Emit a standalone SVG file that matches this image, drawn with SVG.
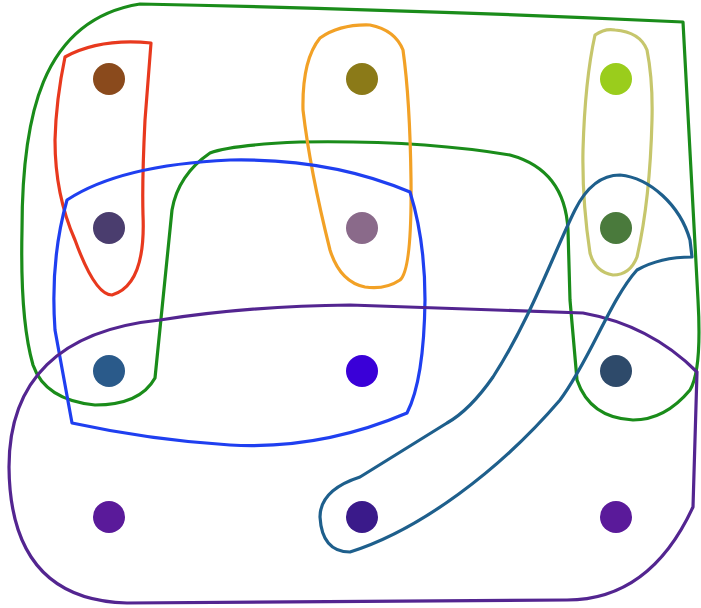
<svg xmlns="http://www.w3.org/2000/svg" width="701" height="608" viewBox="0 0 701 608">
<style>
.e{fill:none;stroke-width:3.2;stroke-linejoin:round}
.n{stroke:none}
</style>
<rect width="701" height="608" fill="#ffffff"/>
<g id="connectors">
<path id="e-green" class="e" stroke="#1a8c1a" d="M140,4 Q400,9 683,22 L698,300 Q702,370 690,390 Q665,420 633,420 Q590,418 577,380 L570,300 L568,230 Q565,170 510,155 Q420,140 300,142 Q230,145 210,153 Q178,175 172,210 L155,378 Q140,405 95,405 Q45,400 33,365 Q20,320 22,230 C22,120 40,20 140,4 Z"/>
<path id="e-red" class="e" stroke="#e8391e" d="M65,57 Q100,38 151,43 L145,120 Q142,180 143,215 Q146,285 112,295 Q95,295 75,240 Q55,195 55,140 Q56,100 65,57 Z"/>
<path id="e-orange" class="e" stroke="#f2a126" d="M320,38 Q340,24 370,25 Q395,30 403,50 Q410,100 411,180 Q412,270 400,280 Q385,290 365,287 Q340,282 330,250 Q310,170 303,110 Q302,60 320,38 Z"/>
<path id="e-olive" class="e" stroke="#c6c66c" d="M595,35 Q605,28 615,30 Q640,32 647,50 Q653,80 652,120 Q650,200 637,257 Q630,275 613,275 Q595,272 590,253 Q582,200 583,150 Q585,80 595,35 Z"/>
<path id="e-blue" class="e" stroke="#1f3ff0" d="M67,200 Q120,165 230,160 Q330,158 410,192 Q425,240 425,300 Q424,380 407,413 Q320,450 230,445 Q150,440 72,423 L55,330 Q50,260 67,200 Z"/>
<path id="e-purple" class="e" stroke="#532590" d="M160,320 Q250,306 350,305 L583,313 Q650,325 697,372 L693,507 Q650,600 567,600 L127,603 Q10,600 9,467 C9,380 60,330 160,320 Z"/>
<path id="e-teal" class="e" stroke="#1e5f8c" d="M350,552 C420,530 500,470 560,400 C590,360 610,300 637,270 Q660,257 692,257 L690,240 C680,205 650,178 620,175 C600,175 585,190 575,210 C555,250 530,320 493,377 Q470,410 447,423 L360,477 Q320,490 320,517 Q322,552 350,552 Z"/>
</g>
<g id="n1"><circle class="n" cx="109" cy="79" r="16" fill="#8a4a1c"/></g>
<g id="n2"><circle class="n" cx="362" cy="79" r="16" fill="#8b7a18"/></g>
<g id="n3"><circle class="n" cx="616" cy="79" r="16" fill="#9acd1c"/></g>
<g id="n4"><circle class="n" cx="109" cy="228" r="16" fill="#4a3d6e"/></g>
<g id="n5"><circle class="n" cx="362" cy="228" r="16" fill="#8a6a8a"/></g>
<g id="n6"><circle class="n" cx="616" cy="228" r="16" fill="#4a7a3c"/></g>
<g id="n7"><circle class="n" cx="109" cy="371" r="16" fill="#2a5a8a"/></g>
<g id="n8"><circle class="n" cx="362" cy="371" r="16" fill="#3a00d8"/></g>
<g id="n9"><circle class="n" cx="616" cy="371" r="16" fill="#2e4a6a"/></g>
<g id="n10"><circle class="n" cx="109" cy="517" r="16" fill="#5a1a9a"/></g>
<g id="n11"><circle class="n" cx="362" cy="517" r="16" fill="#3a1a8a"/></g>
<g id="n12"><circle class="n" cx="616" cy="517" r="16" fill="#5a1a9a"/></g>
</svg>
